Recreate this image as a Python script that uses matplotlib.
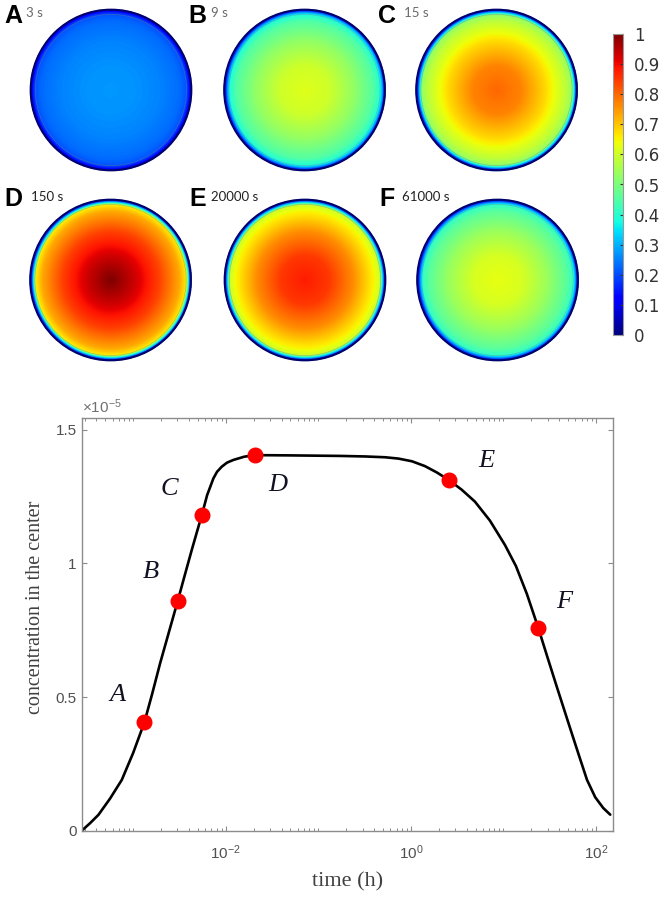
import numpy as np
import matplotlib
matplotlib.use("Agg")
import matplotlib.pyplot as plt
from matplotlib.ticker import LogLocator, NullFormatter, FixedLocator
from matplotlib.patches import Circle
from matplotlib.cm import ScalarMappable
from matplotlib.colors import Normalize

plt.rcParams["mathtext.fontset"] = "custom"
plt.rcParams["mathtext.rm"] = "Liberation Sans"
plt.rcParams["mathtext.it"] = "Liberation Sans:italic"
plt.rcParams["mathtext.bf"] = "Liberation Sans:bold"

# ---------------- data ----------------
panel_letters = ["A", "B", "C", "D", "E", "F"]
panel_times = ["3 s", "9 s", "15 s", "150 s", "20000 s", "61000 s"]

radii = [0.0, 0.3, 0.6, 0.85, 0.93, 0.955, 0.98, 1.0]
profile_A = [0.275, 0.27, 0.255, 0.232, 0.21, 0.17, 0.11, 0.06]
profile_B = [0.62, 0.60, 0.53, 0.45, 0.39, 0.30, 0.17, 0.07]
profile_C = [0.80, 0.77, 0.68, 0.58, 0.53, 0.36, 0.18, 0.07]
profile_D = [1.00, 0.93, 0.84, 0.73, 0.66, 0.40, 0.19, 0.07]
profile_E = [0.88, 0.85, 0.76, 0.65, 0.60, 0.38, 0.19, 0.07]
profile_F = [0.63, 0.61, 0.54, 0.46, 0.41, 0.30, 0.17, 0.07]
profiles = [profile_A, profile_B, profile_C, profile_D, profile_E, profile_F]

# centre concentration vs time: log10(time / h) and concentration (units of 1e-5)
curve_log10_time = [-3.557, -3.467, -3.377, -3.251, -3.124, -3.002, -2.880, -2.797,
                    -2.710, -2.613, -2.519, -2.440, -2.368, -2.310, -2.259, -2.202,
                    -2.134, -2.094, -2.043, -1.986, -1.918, -1.802, -1.683, -1.305,
                    -0.764, -0.494, -0.278, -0.134, 0.011, 0.151, 0.281, 0.414,
                    0.551, 0.692, 0.854, 1.016, 1.135, 1.254, 1.376, 1.470,
                    1.575, 1.719, 1.808, 1.903, 1.992, 2.078, 2.154]
curve_conc = [0.0, 0.028, 0.059, 0.12, 0.19, 0.29, 0.405, 0.51,
              0.626, 0.745, 0.86, 0.96, 1.05, 1.12, 1.181, 1.255,
              1.318, 1.343, 1.362, 1.377, 1.387, 1.399, 1.405, 1.404,
              1.402, 1.400, 1.397, 1.392, 1.382, 1.364, 1.340, 1.311,
              1.275, 1.231, 1.160, 1.069, 0.99, 0.885, 0.759, 0.655,
              0.54, 0.385, 0.29, 0.19, 0.125, 0.085, 0.06]

point_labels = ["A", "B", "C", "D", "E", "F"]
point_log10_time = [-2.880, -2.519, -2.259, -1.683, 0.414, 1.376]
point_conc = [0.405, 0.86, 1.181, 1.405, 1.311, 0.759]
label_offsets_px = [(-27, 27), (-27, 29), (-32, 26), (23, -30), (37, 19), (26, 26)]

cbar_ticks = [0, 0.1, 0.2, 0.3, 0.4, 0.5, 0.6, 0.7, 0.8, 0.9, 1.0]
cbar_labels = ["0", "0.1", "0.2", "0.3", "0.4", "0.5", "0.6", "0.7", "0.8", "0.9", "1"]

# ---------------- figure ----------------
W, H = 665, 897
fig = plt.figure(figsize=(W / 100, H / 100), dpi=100)


def px(x, y, w, h):
    return [x / W, (H - y - h) / H, w / W, h / H]


centers = [(111, 90), (304.5, 90), (496.5, 90), (110.5, 280), (305, 280), (497.5, 280)]
diam = 165
n = 400
g = np.linspace(-1, 1, n)
X, Y = np.meshgrid(g, g)
R = np.sqrt(X ** 2 + Y ** 2)

for i, (cx, cy) in enumerate(centers):
    ax = fig.add_axes(px(cx - diam / 2, cy - diam / 2, diam, diam))
    Z = np.interp(R, radii, profiles[i])
    Z = np.ma.masked_where(R > 1.0, Z)
    ax.imshow(Z, cmap="jet", vmin=0, vmax=1, extent=[-1, 1, -1, 1],
              interpolation="bilinear", origin="lower")
    ax.add_patch(Circle((0, 0), 0.993, fill=False, ec="#00006e", lw=1.5))
    ax.add_patch(Circle((0, 0), 0.935, fill=False, ec="#808080", lw=0.5, alpha=0.45))
    ax.set_xlim(-1.02, 1.02)
    ax.set_ylim(-1.02, 1.02)
    ax.axis("off")

# panel letters and times
letter_pos = [(4, 16), (188, 16), (378, 16), (4, 199), (189, 199), (379, 199)]
time_pos = [(26, 13), (211, 13), (404, 13), (31, 197), (211, 197), (402, 197)]
for i in range(6):
    lx, ly = letter_pos[i]
    fig.text(lx / W, 1 - ly / H, panel_letters[i], fontsize=18, fontweight="bold",
             family="Liberation Sans", color="black", va="center", ha="left")
    tx, ty = time_pos[i]
    fig.text(tx / W, 1 - ty / H, panel_times[i], fontsize=9.5,
             family="Lato", color="#6a6a6a" if i < 3 else "#222222",
             va="center", ha="left")

# colorbar
cax = fig.add_axes(px(613, 34, 10, 301))
sm = ScalarMappable(norm=Normalize(0, 1), cmap="jet")
cb = fig.colorbar(sm, cax=cax)
cb.set_ticks(cbar_ticks)
cb.set_ticklabels(cbar_labels)
cb.ax.tick_params(labelsize=12, colors="#333333", length=2, direction="in", pad=8)
for t in cb.ax.get_yticklabels():
    t.set_family("DejaVu Sans")
cb.outline.set_edgecolor("#999999")
cb.outline.set_linewidth(0.8)

# ---------------- line chart ----------------
ax = fig.add_axes(px(81.7, 417.7, 531.6, 413.0))
curve_time = np.power(10.0, curve_log10_time)
point_time = np.power(10.0, point_log10_time)
ax.plot(curve_time, curve_conc, color="black", lw=1.9, solid_capstyle="round",
        solid_joinstyle="round", zorder=2)
ax.plot(point_time, point_conc, "o", color="#ff0000", ms=10.5, mec="#ff0000", zorder=3)
for lab, t, c, off in zip(point_labels, point_time, point_conc, label_offsets_px):
    ax.annotate(lab, (t, c), xytext=off, textcoords="offset pixels",
                ha="center", va="center", fontsize=19, style="italic",
                family="Liberation Serif", color="#111122")

ax.set_xscale("log")
ax.set_xlim(10 ** -3.557, 10 ** 2.187)
ax.set_ylim(0, 1.545)
ax.xaxis.set_major_locator(FixedLocator([1e-2, 1e0, 1e2]))
ax.set_xticklabels(["$10^{-2}$", "$10^{0}$", "$10^{2}$"])
ax.xaxis.set_minor_locator(LogLocator(base=10, subs=np.arange(1, 10), numticks=20))
ax.xaxis.set_minor_formatter(NullFormatter())
ax.set_yticks([0, 0.5, 1.0, 1.5])
ax.set_yticklabels(["0", "0.5", "1", "1.5"])

gray = "#8c8c8c"
for s in ax.spines.values():
    s.set_color(gray)
    s.set_linewidth(1.0)
ax.tick_params(which="both", direction="in", top=True, right=True, colors=gray,
               labelcolor="#505050", labelsize=11)
ax.tick_params(which="major", length=3.5, width=0.8)
ax.tick_params(which="minor", length=2, width=0.7)
ax.tick_params(axis="x", pad=9)
for t in ax.get_xticklabels() + ax.get_yticklabels():
    t.set_family("Liberation Sans")

fig.text(347.5 / W, 1 - 882 / H, "time (h)", fontsize=16, family="Liberation Serif",
         color="#404040", ha="center", va="center")
fig.text(36 / W, 1 - 607 / H, "concentration in the center", fontsize=14.5,
         family="Liberation Serif", color="#404040", ha="center", va="center",
         rotation=90)
ax.text(0.0, 1.005, r"$\times$10$^{-5}$", transform=ax.transAxes, ha="left", va="bottom",
        fontsize=11, family="Liberation Sans", color="#707070")

fig.savefig("out.png", dpi=100)
